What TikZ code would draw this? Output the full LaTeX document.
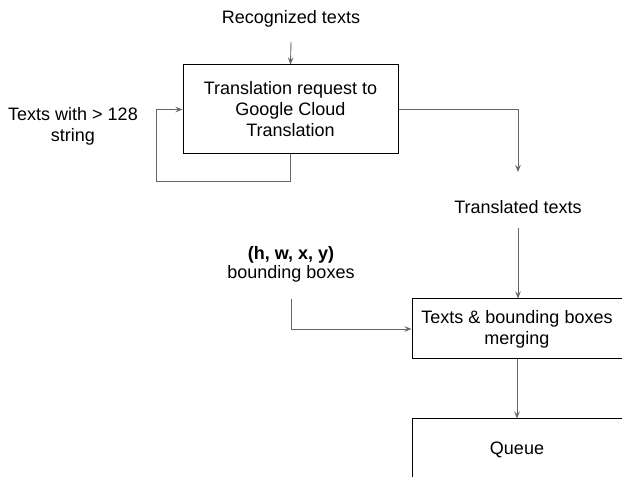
\documentclass[tikz,border=0pt]{standalone}
\usepackage{fontspec}
\setmainfont{Liberation Sans}
\usetikzlibrary{arrows.meta}
\begin{document}
\begin{tikzpicture}[x=1pt,y=1pt,
    boite/.style={draw=black, line width=1pt, align=center, inner sep=0pt,
        font=\fontsize{18}{21}\selectfont},
    texte/.style={align=center, inner sep=0pt, font=\fontsize{18}{21}\selectfont},
    fleche/.style={draw=black!60, line width=0.9pt,
        -{Stealth[length=7pt,width=5.5pt,inset=2.5pt]}}]
    \pgfmathsetmacro{\xgauche}{291}     % colonne de gauche
    \pgfmathsetmacro{\xdroite}{517}     % colonne de droite
    \pgfmathsetmacro{\largeur}{210}     % largeur des boites de droite

    % Cadre de l'image
    \useasboundingbox (0,0) rectangle (622,477);

    % Boites
    \node[boite, minimum width=215, minimum height=89] (requete) at (290.5,367.5)
        {Translation request to\\Google Cloud\\Translation};
    \node[boite, minimum width=\largeur, minimum height=60] (fusion) at (\xdroite,148)
        {Texts \& bounding boxes\\merging};
    \node[boite, minimum width=\largeur, minimum height=62] (file) at (\xdroite,27)
        {Queue};

    % Textes
    \node[texte] (reconnus) at (\xgauche,458) {Recognized texts};
    \node[texte] (longs) at (73,351) {Texts with > 128\\string};
    \node[texte] (traduits) at (518,270) {Translated texts};
    \node[texte, font=\fontsize{18}{19}\selectfont] (bbox) at (\xgauche,212.5)
        {\textbf{(h, w, x, y)}\\bounding boxes};

    % Points de depart et d'arrivee
    \coordinate (d1) at (\xgauche,435);
    \coordinate (a2) at (518,305);
    \coordinate (d3) at (518,249);
    \coordinate (d4) at (\xgauche,178);

    % Fleches
    \draw[fleche] (d1) -- (requete.north);
    \draw[fleche] (requete.south) -- ++(0,-27) -| (156,367.5) -- (requete.west);
    \draw[fleche] (requete.east) -| (a2);
    \draw[fleche] (d3) -- (d3 |- fusion.north);
    \draw[fleche] (d4) |- (fusion.west);
    \draw[fleche] (fusion.south) -- (file.north);
\end{tikzpicture}
\end{document}
